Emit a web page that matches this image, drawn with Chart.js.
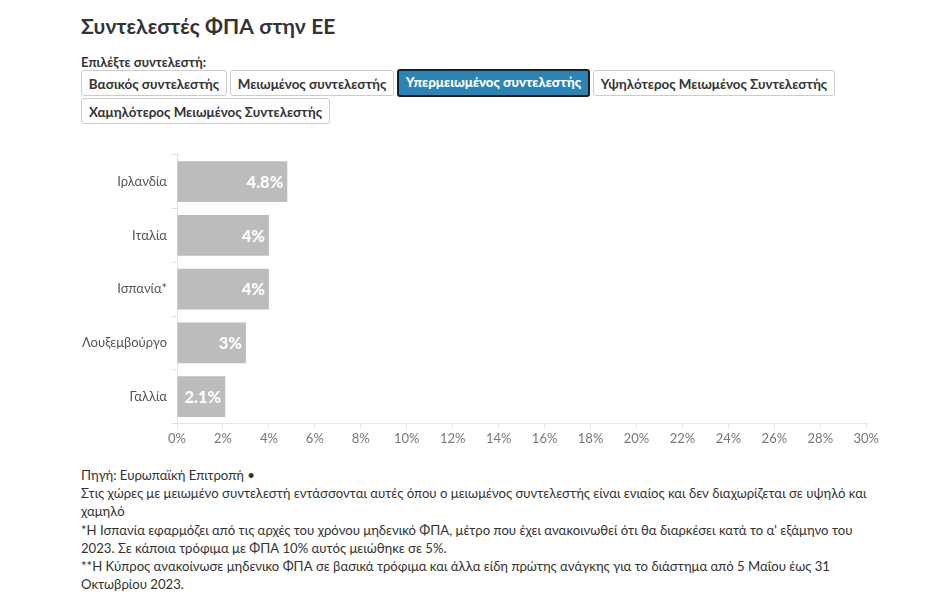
<!DOCTYPE html>
<html>
<head>
<meta charset="utf-8">
<script src="https://cdn.jsdelivr.net/npm/chart.js@4"></script>
<style>
  html,body{margin:0;padding:0;background:#fff;width:926px;height:609px;overflow:hidden;font-family:"Lato","Open Sans",sans-serif;color:#333;}
  #title{position:absolute;left:81px;top:13px;font-size:21px;font-weight:700;color:#333;letter-spacing:0.1px;}
  #pick{position:absolute;left:81px;top:54px;font-size:13px;font-weight:700;color:#333;}
  .btn{position:absolute;height:26px;line-height:26px;border:1px solid #ccc;border-radius:3px;font-size:13.4px;font-weight:700;color:#333;text-align:center;box-sizing:border-box;background:#fff;}
  .sel{background:#2b84b4;color:#fff;border:2px solid #1e1e1e;line-height:23px;font-weight:900;}
  #chartbox{position:absolute;left:70px;top:143px;width:812px;height:307px;}
  #notes{position:absolute;left:81px;top:466px;width:840px;font-size:13.15px;line-height:18.2px;color:#333;white-space:nowrap;}
</style>
</head>
<body>
<div id="title">Συντελεστές ΦΠΑ στην ΕΕ</div>
<div id="pick">Επιλέξτε συντελεστή:</div>
<div class="btn" style="left:81px;top:70px;width:146px;">Βασικός συντελεστής</div>
<div class="btn" style="left:230px;top:70px;width:164px;">Μειωμένος συντελεστής</div>
<div class="btn sel" style="left:397px;top:69px;width:193px;height:28px;">Υπερμειωμένος συντελεστής</div>
<div class="btn" style="left:593px;top:70px;width:242px;">Υψηλότερος Μειωμένος Συντελεστής</div>
<div class="btn" style="left:81px;top:98px;width:249px;">Χαμηλότερος Μειωμένος Συντελεστής</div>
<div id="chartbox"><canvas id="c"></canvas></div>
<div id="notes">Πηγή: Ευρωπαϊκή Επιτροπή •<br>Στις χώρες με μειωμένο συντελεστή εντάσσονται αυτές όπου ο μειωμένος συντελεστής είναι ενιαίος και δεν διαχωρίζεται σε υψηλό και<br>χαμηλό<br>*Η Ισπανία εφαρμόζει από τις αρχές του χρόνου μηδενικό ΦΠΑ, μέτρο που έχει ανακοινωθεί ότι θα διαρκέσει κατά το α' εξάμηνο του<br>2023. Σε κάποια τρόφιμα με ΦΠΑ 10% αυτός μειώθηκε σε 5%.<br>**Η Κύπρος ανακοίνωσε μηδενικο ΦΠΑ σε βασικά τρόφιμα και άλλα είδη πρώτης ανάγκης για το διάστημα από 5 Μαΐου έως 31<br>Οκτωβρίου 2023.</div>
<script>
const countries = ["Ιρλανδία", "Ιταλία", "Ισπανία*", "Λουξεμβούργο", "Γαλλία"];
const rates = [4.8, 4, 4, 3, 2.1];
const rateLabels = ["4.8%", "4%", "4%", "3%", "2.1%"];

const valueLabels = {
  id: 'valueLabels',
  afterDatasetsDraw(chart) {
    const ctx = chart.ctx;
    const meta = chart.getDatasetMeta(0);
    ctx.save();
    ctx.font = '900 16.5px Lato, sans-serif';
    ctx.fillStyle = '#fff';
    ctx.textAlign = 'right';
    ctx.textBaseline = 'middle';
    meta.data.forEach((bar, i) => {
      ctx.fillText(rateLabels[i], bar.x - 4, bar.y + 1);
    });
    ctx.restore();
  }
};

new Chart(document.getElementById('c'), {
  type: 'bar',
  data: {
    labels: countries,
    datasets: [{
      data: rates,
      backgroundColor: '#bcbcbc',
      borderWidth: 0,
      categoryPercentage: 0.76,
      barPercentage: 1.0
    }]
  },
  options: {
    indexAxis: 'y',
    responsive: true,
    maintainAspectRatio: false,
    animation: false,
    layout: { padding: { top: 10, right: 0, left: 0, bottom: 0 } },
    plugins: { legend: { display: false }, tooltip: { enabled: false } },
    scales: {
      x: {
        min: 0, max: 30,
        ticks: { stepSize: 2, callback: v => v + '%', color: '#777', font: { family: 'Lato', size: 13 }, padding: 3, maxRotation: 0 },
        grid: { drawOnChartArea: false, tickLength: 5, color: '#e3e3e3' },
        border: { color: '#e3e3e3' },
        afterFit(s) { s.height = 26.5; }
      },
      y: {
        ticks: { color: '#555', font: { family: 'Lato', size: 13 }, padding: 4 },
        grid: { drawOnChartArea: false, tickLength: 6, color: '#e3e3e3' },
        border: { color: '#e3e3e3' },
        afterFit(s) { s.width = 107; }
      }
    }
  },
  plugins: [valueLabels]
});
</script>
</body>
</html>
